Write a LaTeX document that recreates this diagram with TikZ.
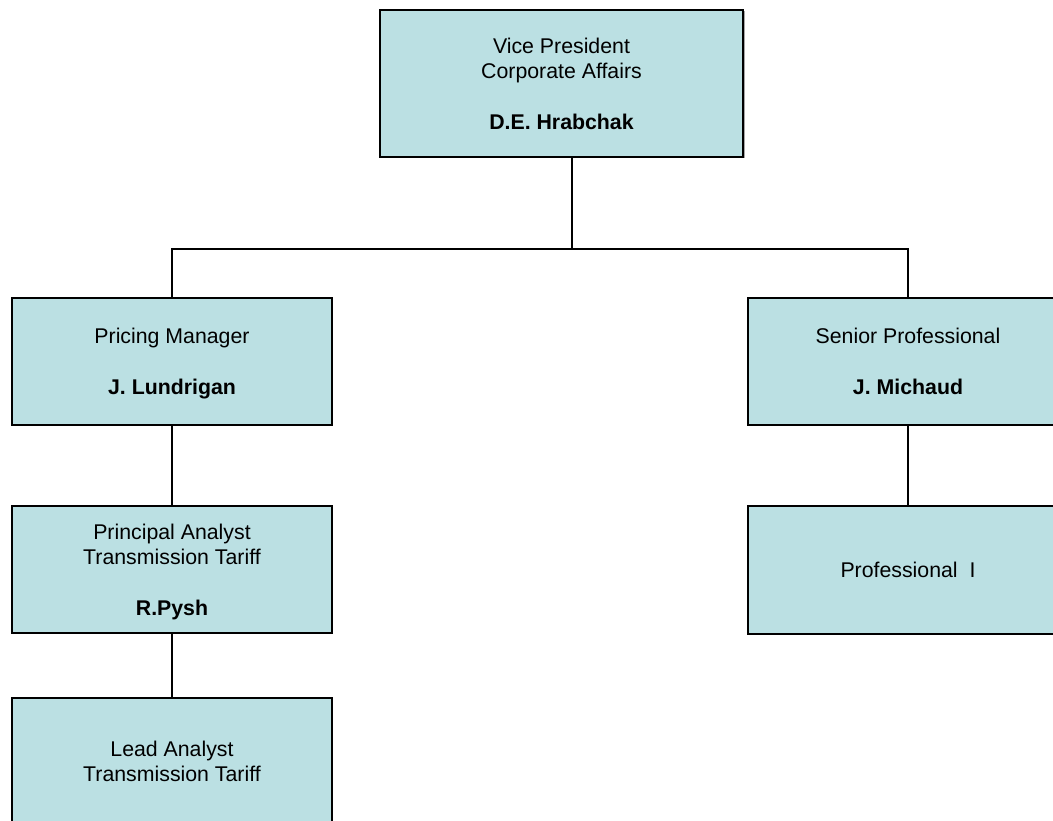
\documentclass[tikz,border=0pt]{standalone}
\usepackage{fontspec}
\setmainfont{Liberation Sans}
\usetikzlibrary{positioning}
\definecolor{boxfill}{RGB}{187,224,227}
\tikzset{box/.style={draw=black, line width=2pt, fill=boxfill,
  minimum width=320, minimum height=127, align=center, inner sep=0pt,
  text depth=0pt, font=\fontsize{21.3}{25.4}\selectfont}}
\tikzset{link/.style={line width=2pt}}

\begin{document}
\begin{tikzpicture}[x=1pt, y=-1pt]

\useasboundingbox (0,0) rectangle (1053,821);
\clip (0,0) rectangle (1053,821);

% top box with its thin shadow
\fill[gray!70] (381.5,11.5) rectangle (744.5,158.5);
\node[box, minimum width=363, minimum height=147] (vp) at (561.5,83.5)
  {Vice President\\Corporate Affairs\\[25.4pt]\textbf{D.E. Hrabchak}};

\node[box] (pm) at (172,361.5) {Pricing Manager\\[25.4pt]\textbf{J. Lundrigan}};
\node[box] (sp) at (908,361.5) {Senior Professional\\[25.4pt]\textbf{J. Michaud}};
\node[box] (pa) at (172,569.5)
  {Principal Analyst\\Transmission Tariff\\[25.4pt]\textbf{R.Pysh}};
\node[box, minimum height=128] (pro) at (908,570) {Professional\ \ I};
\node[box] (la) at (172,761.5) {Lead Analyst\\Transmission Tariff};

% connectors
\coordinate (fork) at (572,249);
\draw[link] (vp.south -| fork) -- (fork);
\draw[link] (pm.north) |- (fork) -| (sp.north);
\draw[link] (pm) -- (pa);
\draw[link] (pa) -- (la);
\draw[link] (sp) -- (pro);

\end{tikzpicture}
\end{document}
